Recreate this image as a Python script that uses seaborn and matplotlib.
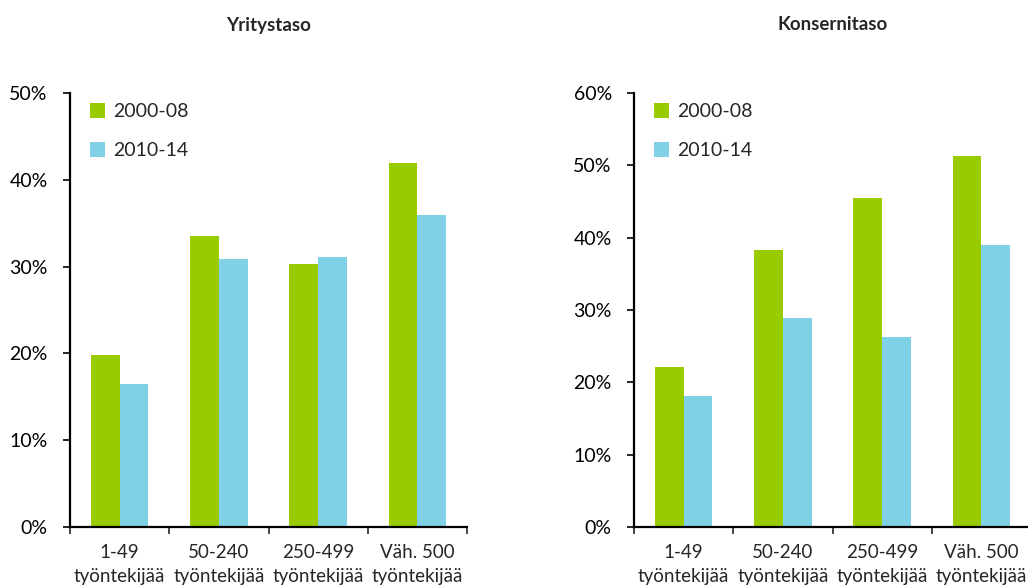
import pandas as pd
import seaborn as sns
import matplotlib.pyplot as plt
from matplotlib.ticker import PercentFormatter, FixedLocator

# data
categories = ["1-49\ntyöntekijää", "50-240\ntyöntekijää", "250-499\ntyöntekijää", "Väh. 500\ntyöntekijää"]
periods = ["2000-08", "2010-14"]
yritys_0008 = [19.8, 33.5, 30.3, 41.9]
yritys_1014 = [16.5, 30.9, 31.1, 35.9]
konserni_0008 = [22.1, 38.3, 45.5, 51.3]
konserni_1014 = [18.1, 28.9, 26.3, 39.0]

colors = ["#99CC00", "#80D1E6"]


def long_df(a, b):
    return pd.DataFrame({
        "cat": categories * 2,
        "period": [periods[0]] * 4 + [periods[1]] * 4,
        "value": a + b,
    })


sns.set_style("white")
plt.rcParams["font.family"] = ["Lato", "DejaVu Sans"]

fig = plt.figure(figsize=(10.28, 5.88), dpi=100)
ax1 = fig.add_axes([70 / 1028, 61 / 588, 397 / 1028, 434 / 588])
ax2 = fig.add_axes([634 / 1028, 61 / 588, 397 / 1028, 434 / 588])

panels = [
    (ax1, long_df(yritys_0008, yritys_1014), "Yritystaso", 50),
    (ax2, long_df(konserni_0008, konserni_1014), "Konsernitaso", 60),
]

for ax, df, title, ymax in panels:
    sns.barplot(data=df, x="cat", y="value", hue="period", palette=colors,
                width=0.58, gap=0, saturation=1, ax=ax, edgecolor="none")
    ax.set_ylim(0, ymax)
    ax.set_xlim(-0.5, 3.5)
    ax.yaxis.set_major_formatter(PercentFormatter(decimals=0))
    ax.set_yticks(range(0, ymax + 1, 10))
    ax.set_xlabel("")
    ax.set_ylabel("")
    ax.set_title(title, fontsize=13.5, fontweight="bold", pad=45)
    for s in ["top", "right"]:
        ax.spines[s].set_visible(False)
    for s in ["left", "bottom"]:
        ax.spines[s].set_color("black")
        ax.spines[s].set_linewidth(1.6)
    ax.tick_params(axis="y", direction="out", length=5, width=1.2, labelsize=14, pad=11, left=True, colors="black")
    ax.tick_params(axis="x", which="major", length=0, labelsize=13.5, pad=12)
    ax.xaxis.set_minor_locator(FixedLocator([-0.5, 0.5, 1.5, 2.5, 3.5]))
    ax.tick_params(axis="x", which="minor", direction="out", length=5, width=1.2, bottom=True)
    for lab in ax.get_xticklabels():
        lab.set_linespacing(1.5)
    ax.legend(title=None, frameon=False, loc="upper left", bbox_to_anchor=(0.006, 1.017),
              fontsize=14, handlelength=0.8, handleheight=0.8, handletextpad=0.4,
              labelspacing=1.1)

fig.savefig("out.png", dpi=100)
